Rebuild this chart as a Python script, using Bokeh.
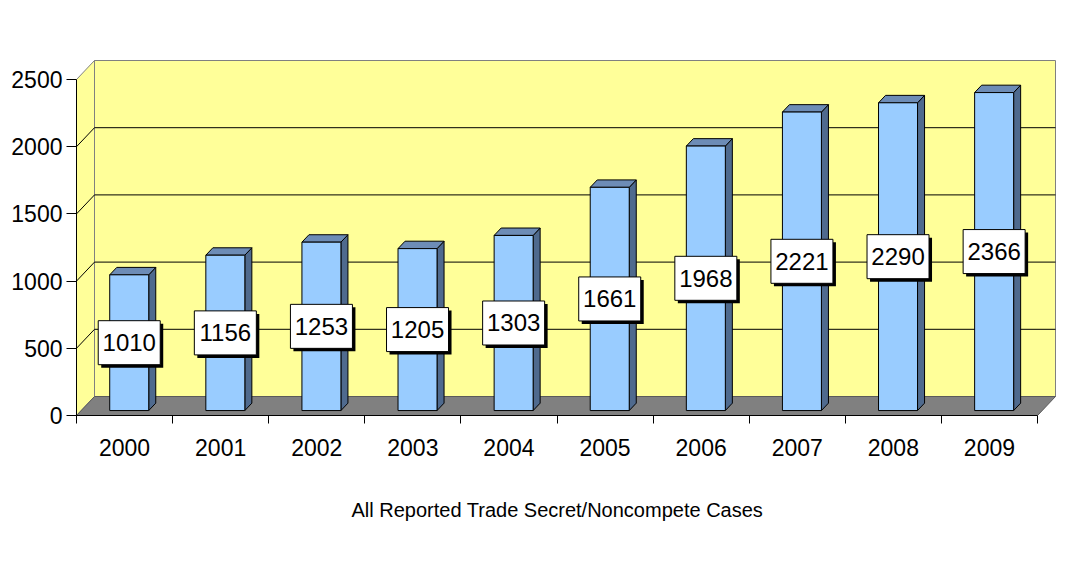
from bokeh.plotting import figure
from bokeh.models import Range1d, FixedTicker, LinearAxis, Title
from bokeh.embed import file_html
from bokeh.resources import INLINE
from bokeh.core.properties import value
import numpy as np

# ---- data ----
years = ["2000", "2001", "2002", "2003", "2004", "2005", "2006", "2007", "2008", "2009"]
cases = [1010, 1156, 1253, 1205, 1303, 1661, 1968, 2221, 2290, 2366]
y_ticks = [0, 500, 1000, 1500, 2000, 2500]
x_title = "All Reported Trade Secret/Noncompete Cases"

# ---- layout / style constants ----
W, H = 1071, 559
BL, BR, BT, BB = 76, 5, 49, 144
PXC = 96.1      # px per category
PXV = 0.1344    # px per value unit
WALL_DX_PX, WALL_DY_PX = 18.0, 19.0
DX = WALL_DX_PX / PXC
DY = WALL_DY_PX / PXV
BAR_D0 = 0.26   # depth of bar front face (fraction of wall depth)
BAR_DD = 0.39   # bar depth
BAR_W = 39.0 / PXC
YMAX = 2500
N = len(years)

FONT = "Liberation Sans"
YELLOW = "#FFFF99"
FLOOR = "#808080"
FRONT = "#99CCFF"
SIDE = "#4F6A8E"
TOP = "#6D8CB6"

fw = W - BL - BR
fh = H - BT - BB
p = figure(width=W, height=H, output_backend="svg", toolbar_location=None,
           x_range=Range1d(0, fw / PXC), y_range=Range1d(0, fh / PXV),
           min_border_left=BL, min_border_right=BR, min_border_top=BT, min_border_bottom=BB,
           x_axis_location=None, y_axis_location=None)
p.outline_line_color = None
p.xgrid.visible = False
p.ygrid.visible = False
p.background_fill_color = "white"
p.border_fill_color = "white"

# ---- walls ----
p.quad(left=[DX], right=[N + DX], bottom=[DY], top=[YMAX + DY],
       fill_color=YELLOW, line_color="#808080", line_width=1)
p.patch(x=[0, 0, DX, DX], y=[0, YMAX, YMAX + DY, DY],
        fill_color=YELLOW, line_color="#808080", line_width=1)
p.patch(x=[0, N, N + DX, DX], y=[0, 0, DY, DY],
        fill_color=FLOOR, line_color="#5a5a5a", line_width=1)

g = np.array(y_ticks[1:-1], dtype=float)
p.segment(x0=[DX] * len(g), y0=list(g + DY), x1=[N + DX] * len(g), y1=list(g + DY),
          line_color="black", line_width=1)
p.segment(x0=[0] * len(g), y0=list(g), x1=[DX] * len(g), y1=list(g + DY),
          line_color="black", line_width=1)

# ---- bars ----
v = np.array(cases, dtype=float)
cx = np.arange(N) + 0.5 + BAR_D0 * DX
xl = cx - BAR_W / 2
xr = cx + BAR_W / 2
yb = np.full(N, BAR_D0 * DY)
yt = v + BAR_D0 * DY
ddx = BAR_DD * DX
ddy = BAR_DD * DY

side_xs = [[xr[i], xr[i] + ddx, xr[i] + ddx, xr[i]] for i in range(N)]
side_ys = [[yb[i], yb[i] + ddy, yt[i] + ddy, yt[i]] for i in range(N)]
top_xs = [[xl[i], xr[i], xr[i] + ddx, xl[i] + ddx] for i in range(N)]
top_ys = [[yt[i], yt[i], yt[i] + ddy, yt[i] + ddy] for i in range(N)]

p.patches(xs=side_xs, ys=side_ys, fill_color=SIDE, line_color="black", line_width=1)
p.patches(xs=top_xs, ys=top_ys, fill_color=TOP, line_color="black", line_width=1)
p.quad(left=list(xl), right=list(xr), bottom=list(yb), top=list(yt),
       fill_color=FRONT, line_color="black", line_width=1)

# ---- data labels ----
ly = yb + v / 2
p.rect(x=list(cx + 3 / PXC), y=list(ly - 3 / PXV), width=62, height=44,
       width_units="screen", height_units="screen", fill_color="black", line_color=None)
p.rect(x=list(cx), y=list(ly), width=62, height=44,
       width_units="screen", height_units="screen", fill_color="white",
       line_color="black", line_width=1)
p.text(x=list(cx), y=list(ly), text=[str(c) for c in cases],
       text_font=value(FONT), text_font_size="24px", text_color="black",
       text_align="center", text_baseline="middle")

# ---- axes ----
yax = LinearAxis(ticker=FixedTicker(ticks=y_ticks, minor_ticks=[]), bounds=(0, YMAX))
yax.major_tick_out = 10
yax.major_tick_in = 0
yax.minor_tick_out = 0
yax.minor_tick_in = 0
yax.major_label_standoff = 4
yax.major_label_text_font = FONT
yax.major_label_text_font_size = "23px"
yax.major_label_text_color = "black"
yax.axis_line_color = "black"
yax.major_tick_line_color = "black"
p.add_layout(yax, "left")

xax = LinearAxis(ticker=FixedTicker(ticks=[i + 0.5 for i in range(N)],
                                    minor_ticks=list(range(N + 1))),
                 bounds=(0, N))
xax.major_label_overrides = {i + 0.5: years[i] for i in range(N)}
xax.major_tick_out = 0
xax.major_tick_in = 0
xax.minor_tick_out = 8
xax.minor_tick_in = 0
xax.major_label_standoff = 15
xax.major_label_text_font = FONT
xax.major_label_text_font_size = "23px"
xax.major_label_text_color = "black"
xax.axis_line_color = "black"
xax.minor_tick_line_color = "black"
p.add_layout(xax, "below")

# category-axis title, placed under the ten categories
t = Title(text=x_title, align="left", offset=275, standoff=77,
          text_font=FONT, text_font_size="20px", text_font_style="normal",
          text_color="black")
p.add_layout(t, "below")

open("out.html", "w").write(file_html(p, INLINE))
